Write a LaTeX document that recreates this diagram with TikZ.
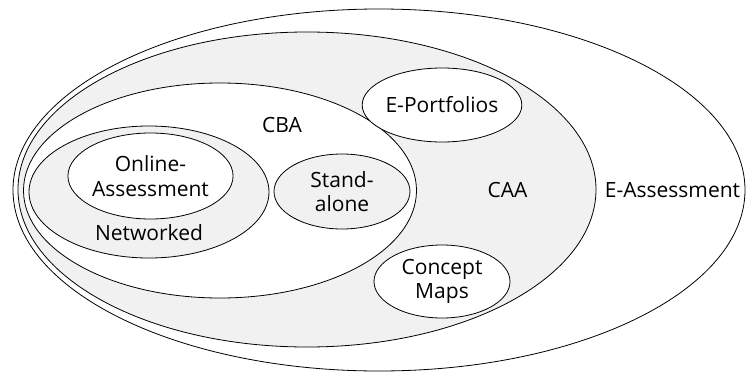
\documentclass[tikz,border=0pt]{standalone}
\usepackage{fontspec}
\setmainfont{Open Sans}
\usetikzlibrary{shapes.geometric}
\definecolor{setfill}{RGB}{241,241,241}
\begin{document}
\begin{tikzpicture}[x=1pt,y=-1pt,
  region/.style={ellipse,draw,line width=0.8pt,inner sep=0pt,align=center,
    font=\fontsize{21}{24.5}\selectfont},
  shaded/.style={region,fill=setfill},
  plain/.style={region,fill=white},
  setlabel/.style={anchor=base,inner sep=0pt,font=\fontsize{21}{24.5}\selectfont}]
  \useasboundingbox (0,0) rectangle (746,372);
  % nested sets, outermost first
  \node[plain,  minimum width=732pt, minimum height=362pt] (eass) at (379,190) {};
  \node[shaded, minimum width=578pt, minimum height=315pt] (caa)  at (307,189.5) {};
  \node[plain,  minimum width=393pt, minimum height=215pt] (cba)  at (220,190.5) {};
  \node[shaded, minimum width=240pt, minimum height=132pt] (net)  at (149,192) {};
  \node[plain,  minimum width=155pt, minimum height=86pt]  (online) at (150.5,176) {Online-\\Assessment};
  \node[shaded, minimum width=136pt, minimum height=75pt]  (stand)  at (342,191.5) {Stand-\\alone};
  \node[plain,  minimum width=136pt, minimum height=74pt]  (eport)  at (442,105) {E-Portfolios};
  \node[plain,  minimum width=136pt, minimum height=73pt]  (cmaps)  at (442,281.5) {Concept\\Maps};
  % set names
  \node[setlabel] (cbalabel)  at (282,132.3) {CBA};
  \node[setlabel] (netlabel)  at (149,240.3) {Networked};
  \node[setlabel] (caalabel)  at (507.5,197.3) {CAA};
  \node[setlabel] (easslabel) at (672.5,197.3) {E-Assessment};
\end{tikzpicture}
\end{document}
